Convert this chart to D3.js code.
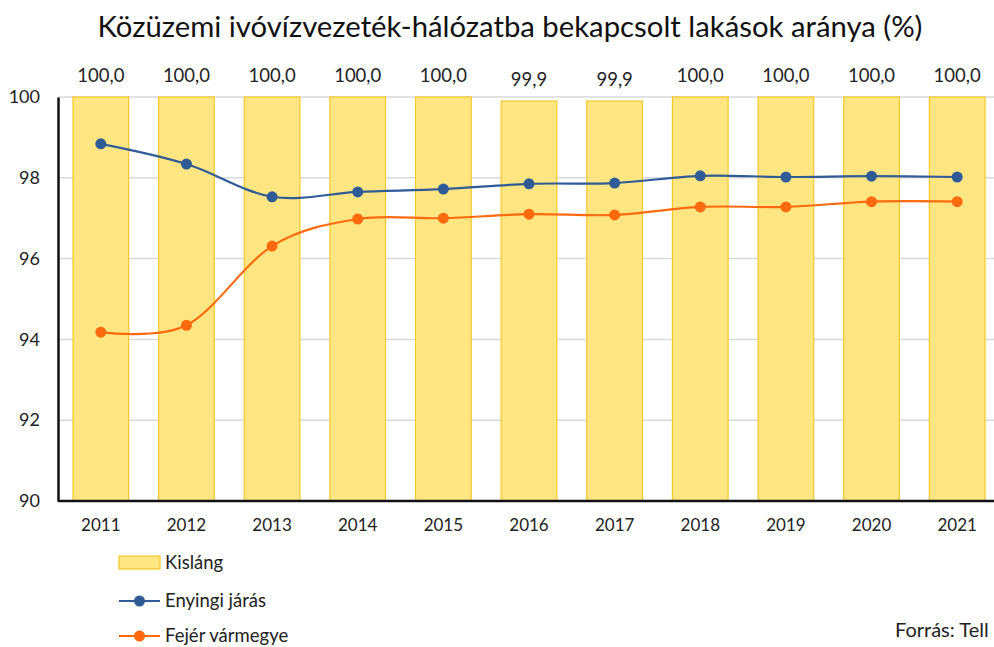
<!DOCTYPE html>
<html><head><meta charset="utf-8">
<script src="https://cdn.jsdelivr.net/npm/d3@7"></script>
<style>
body{margin:0;background:#fff;}
svg{display:block;font-family:Lato, "Noto Sans", sans-serif;}
</style></head>
<body><svg id="c" width="994" height="647"></svg>
<script>
const years = ["2011","2012","2013","2014","2015","2016","2017","2018","2019","2020","2021"];
const kislang = [100.0,100.0,100.0,100.0,100.0,99.9,99.9,100.0,100.0,100.0,100.0];
const enyingi = [98.84,98.34,97.53,97.65,97.72,97.85,97.87,98.05,98.02,98.04,98.02];
const fejer = [94.18,94.35,96.31,96.98,97.0,97.1,97.08,97.28,97.28,97.41,97.41];
const yTicks = [90,92,94,96,98,100];
const seriesNames = ["Kisláng","Enyingi járás","Fejér vármegye"];
const title = "Közüzemi ivóvízvezeték-hálózatba bekapcsolt lakások aránya (%)";
const source = "Forrás: Tell";

const svg = d3.select("#c");
const L = 58, R = 1000, T = 97, B = 501;
const x = d3.scaleBand().domain(years).range([L, R]).paddingInner(0.35).paddingOuter(0.175);
const y = d3.scaleLinear().domain([90,100]).range([B, T]);
const fmt = v => d3.format(".1f")(v).replace(".", ",");

svg.append("text").attr("x", 510).attr("y", 37).attr("text-anchor","middle")
  .attr("font-size", 29.3).attr("fill","#111").text(title);

// gridlines
svg.append("g").selectAll("line").data(yTicks.filter(t=>t>90)).join("line")
  .attr("x1", L).attr("x2", 994).attr("y1", d=>y(d)).attr("y2", d=>y(d))
  .attr("stroke","#d9d9d9").attr("stroke-width",1.5);

// bars
svg.append("g").selectAll("rect").data(kislang).join("rect")
  .attr("x",(d,i)=>x(years[i])).attr("width",x.bandwidth())
  .attr("y",d=>y(d)).attr("height",d=>y(90)-y(d))
  .attr("fill","#FFE682").attr("stroke","#F3C92A").attr("stroke-width",1.2);

// bar labels
svg.append("g").selectAll("text").data(kislang).join("text")
  .attr("x",(d,i)=>x(years[i])+x.bandwidth()/2).attr("y",d=>y(d)-15)
  .attr("text-anchor","middle").attr("font-size",18.5).attr("fill","#222").text(fmt);

// axes
const yAxis = d3.axisLeft(y).tickValues(yTicks).tickSize(0).tickPadding(18);
const gy = svg.append("g").attr("transform",`translate(${L},0)`).call(yAxis);
gy.select(".domain").attr("stroke","#111").attr("stroke-width",2.5);
gy.selectAll("text").attr("font-size",18).attr("fill","#222").attr("font-family","Lato");

const xAxis = d3.axisBottom(x).tickSize(0).tickPadding(18);
const gx = svg.append("g").attr("transform",`translate(0,${B})`).call(xAxis);
gx.select(".domain").attr("stroke","#111").attr("stroke-width",2.5).attr("d",`M${L},0H994`);
gx.selectAll("text").attr("font-size",17).attr("fill","#222").attr("font-family","Lato");

const cx = i => x(years[i]) + x.bandwidth()/2;
const line = d3.line().x((d,i)=>cx(i)).y(d=>y(d)).curve(d3.curveCatmullRom.alpha(0));
const series = [{v:enyingi,c:"#2F5C97"},{v:fejer,c:"#FF6A0E"}];
series.forEach(s=>{
  svg.append("path").datum(s.v).attr("d",line).attr("fill","none")
    .attr("stroke",s.c).attr("stroke-width",2.2);
  svg.append("g").selectAll("circle").data(s.v).join("circle")
    .attr("cx",(d,i)=>cx(i)).attr("cy",d=>y(d)).attr("r",5.5).attr("fill",s.c);
});

// legend
const lg = svg.append("g");
const ly = [563, 601, 636];
lg.append("rect").attr("x",119).attr("y",556).attr("width",41).attr("height",13)
  .attr("fill","#FFE682").attr("stroke","#F3C92A").attr("stroke-width",1.2);
[1,2].forEach(k=>{
  const c = series[k-1].c;
  lg.append("line").attr("x1",119).attr("x2",160).attr("y1",ly[k]).attr("y2",ly[k])
    .attr("stroke",c).attr("stroke-width",2.2);
  lg.append("circle").attr("cx",139.5).attr("cy",ly[k]).attr("r",5.5).attr("fill",c);
});
seriesNames.forEach((n,k)=>{
  lg.append("text").attr("x",165).attr("y",ly[k]+6).attr("font-size",18.5)
    .attr("fill","#222").text(n);
});

svg.append("text").attr("x",895).attr("y",637).attr("font-size",20).attr("fill","#222").text(source);
</script></body></html>
